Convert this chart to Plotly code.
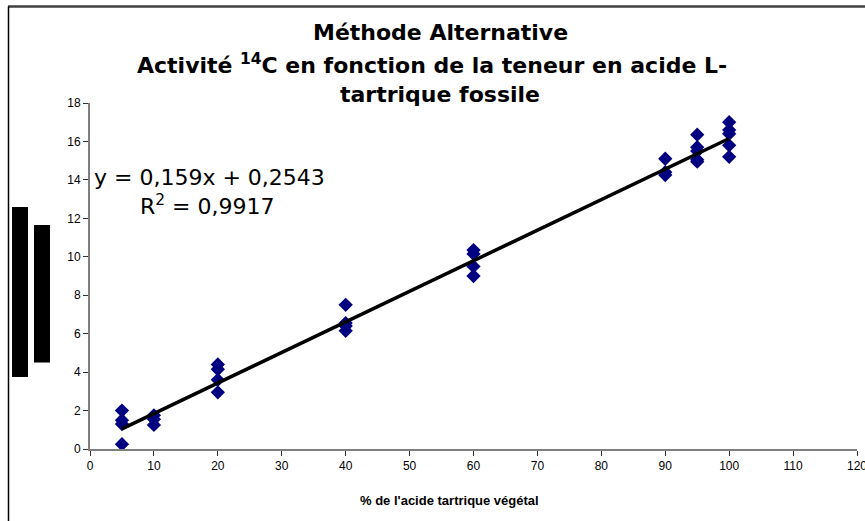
import plotly.graph_objects as go

# Measured 14C activity for each blend (% of plant-derived tartaric acid)
pct_5 = [2.0, 1.5, 1.3, 0.25]
pct_10 = [1.75, 1.55, 1.25]
pct_20 = [4.4, 4.15, 3.6, 2.95]
pct_40 = [7.5, 6.55, 6.4, 6.15]
pct_60 = [10.35, 10.15, 9.5, 9.0]
pct_90 = [15.1, 14.4, 14.25]
pct_95 = [16.35, 15.7, 15.5, 15.05, 14.95]
pct_100 = [17.0, 16.6, 16.4, 15.8, 15.2]

levels = [5, 10, 20, 40, 60, 90, 95, 100]
activities = [pct_5, pct_10, pct_20, pct_40, pct_60, pct_90, pct_95, pct_100]

# Linear regression reported on the chart
slope = 0.159
intercept = 0.2543
r_squared = 0.9917
fit_x = [5, 100]

x_ticks = list(range(0, 121, 10))
y_ticks = list(range(0, 19, 2))

W, H = 865, 521


def px(v):
    return v / W


def py(v):
    return 1 - v / H


xs, ys = [], []
for lvl, vals in zip(levels, activities):
    for v in vals:
        xs.append(lvl)
        ys.append(v)

fig = go.Figure()
fig.add_trace(go.Scatter(
    x=xs, y=ys, mode="markers",
    marker=dict(symbol="diamond", size=11, color="#000080",
                line=dict(width=0)),
    showlegend=False, hoverinfo="x+y",
))
fig.add_trace(go.Scatter(
    x=fit_x, y=[slope * v + intercept for v in fit_x], mode="lines",
    line=dict(color="black", width=3.5),
    showlegend=False, hoverinfo="skip",
))

axis_font = dict(family="Liberation Sans, Arial, sans-serif", size=12, color="black")

fig.update_layout(
    width=W, height=H,
    margin=dict(l=0, r=0, t=0, b=0),
    paper_bgcolor="white", plot_bgcolor="white",
    xaxis=dict(
        domain=[px(90), px(857)], range=[0, 120],
        tickmode="array", tickvals=x_ticks, ticktext=[str(t) for t in x_ticks],
        showgrid=False, zeroline=False, automargin=False,
        ticklabeloverflow="allow",
        showline=True, linecolor="#7f7f7f", linewidth=2,
        ticks="outside", ticklen=5, tickcolor="#333333", tickwidth=1,
        tickfont=axis_font, fixedrange=True,
    ),
    yaxis=dict(
        domain=[py(449), py(103)], range=[0, 18],
        tickmode="array", tickvals=y_ticks, ticktext=[str(t) for t in y_ticks],
        showgrid=False, zeroline=False, automargin=False,
        ticklabeloverflow="allow",
        showline=True, linecolor="#7f7f7f", linewidth=2,
        ticks="outside", ticklen=5, tickcolor="#333333", tickwidth=1,
        tickfont=axis_font, fixedrange=True,
    ),
)

title_font = dict(family="DejaVu Sans, sans-serif", size=22, color="black", weight="bold")
title_lines = [
    ("Méthode Alternative", 33, 440),
    ("Activité <sup>14</sup>C en fonction de la teneur en acide L-", 64, 432),
    ("tartrique fossile", 95, 440),
]
for text, yy, xx in title_lines:
    fig.add_annotation(
        text=text, x=px(xx), y=py(yy), xref="paper", yref="paper",
        xanchor="center", yanchor="middle", showarrow=False, font=title_font,
    )

eq_font = dict(family="DejaVu Sans, sans-serif", size=22, color="black")
fig.add_annotation(
    text=f"y = {str(slope).replace('.', ',')}x + {str(intercept).replace('.', ',')}",
    x=px(209), y=py(177), xref="paper", yref="paper",
    xanchor="center", yanchor="middle", showarrow=False, font=eq_font,
)
fig.add_annotation(
    text=f"R<sup>2</sup> = {str(r_squared).replace('.', ',')}",
    x=px(207), y=py(205), xref="paper", yref="paper",
    xanchor="center", yanchor="middle", showarrow=False, font=eq_font,
)

fig.add_annotation(
    text="% de l'acide tartrique végétal",
    x=px(449), y=py(500), xref="paper", yref="paper",
    xanchor="center", yanchor="middle", showarrow=False,
    font=dict(family="Liberation Sans, Arial, sans-serif", size=13,
              color="black", weight="bold"),
)

# Chart frame (top and left edges) and the blocked-out vertical axis title
fig.add_shape(type="line", xref="paper", yref="paper",
              x0=px(8), x1=1, y0=py(6.5), y1=py(6.5),
              line=dict(color="#404040", width=2.5))
fig.add_shape(type="line", xref="paper", yref="paper",
              x0=px(8.5), x1=px(8.5), y0=0, y1=py(6.5),
              line=dict(color="black", width=1.5))
fig.add_shape(type="rect", xref="paper", yref="paper",
              x0=px(12), x1=px(28), y0=py(377), y1=py(207),
              fillcolor="black", line=dict(width=0))
fig.add_shape(type="rect", xref="paper", yref="paper",
              x0=px(34), x1=px(50), y0=py(362.5), y1=py(225),
              fillcolor="black", line=dict(width=0))

fig.write_html("out.html")
